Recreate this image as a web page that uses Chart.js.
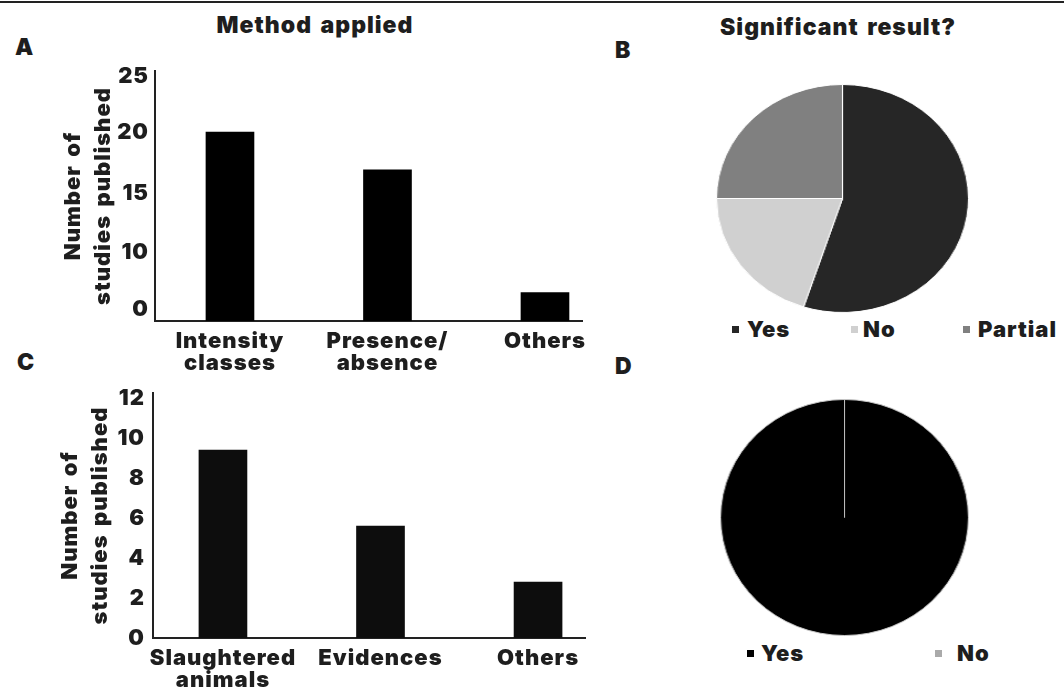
<!DOCTYPE html>
<html><head><meta charset="utf-8">
<script src="https://cdn.jsdelivr.net/npm/chart.js@4.4.1/dist/chart.umd.min.js"></script>
<style>
html,body{margin:0;padding:0;background:#fff;}
body{width:1064px;height:690px;position:relative;overflow:hidden;font-family:'Inter','DejaVu Sans',sans-serif;font-weight:900;color:#1e1e1e;letter-spacing:1px;word-spacing:3px;}
.abs{position:absolute;white-space:nowrap;}
#topline{position:absolute;left:0;top:1px;width:1064px;height:1.5px;background:#222;}
canvas{position:absolute;}
.mk{position:absolute;width:7px;height:7px;}
</style></head><body>
<div id="topline"></div>
<div class="abs" style="left:15px;top:36px;font-size:23px;line-height:23px">A</div>
<div class="abs" style="left:615px;top:39px;font-size:23px;line-height:23px">B</div>
<div class="abs" style="left:17px;top:351px;font-size:23px;line-height:23px">C</div>
<div class="abs" style="left:615px;top:355px;font-size:23px;line-height:23px">D</div>
<div class="abs" style="left:165px;width:300px;text-align:center;top:14px;font-size:23px;line-height:23px">Method applied</div>
<div class="abs" style="left:688px;width:300px;text-align:center;top:16px;font-size:23px;line-height:23px">Significant result?</div>

<canvas id="chartA" width="600" height="325" style="left:0;top:60px;width:600px;height:325px"></canvas>
<canvas id="chartC" width="600" height="305" style="left:0;top:385px;width:600px;height:305px"></canvas>
<canvas id="pieB" width="229" height="229" style="left:727.5px;top:83.5px;width:229px;height:229px;transform:scaleX(1.105);transform-origin:50% 50%"></canvas>
<canvas id="pieD" width="237" height="237" style="left:725.5px;top:398.5px;width:237px;height:237px;transform:scaleX(1.05);transform-origin:50% 50%"></canvas>
<div id="legendB"></div>
<div id="legendD"></div>

<script>
// ---- data ----
const methodCategories = [['Intensity','classes'], ['Presence/','absence'], ['Others']];
const methodCounts = [20, 16, 3];
const methodTickLabels = ['0', '10', '15', '20', '25'];
const methodTickValues = [1.2, 7.3, 13.5, 20, 25.9]; // where the reference prints its labels

const sourceCategories = [['Slaughtered','animals'], ['Evidences'], ['Others']];
const sourceCounts = [9.4, 5.6, 2.8];
const sourceTickValues = [0, 2, 4, 6, 8, 10, 12];

const resultLabels = ['Yes', 'No', 'Partial'];
const resultCounts = [22, 8, 10];

const sourceResultLabels = ['Yes', 'No'];
const sourceResultCounts = [18, 0];

const yTitle = ['Number of', 'studies published'];

// ---- styles ----
const textColor = '#1e1e1e';
const axisColor = '#222222';
const resultColors = ['#262626', '#d0d0d0', '#808080'];
const sourceResultColors = ['#000000', '#aaaaaa'];
const legendBPos = [{m:732, t:747}, {m:851, t:863}, {m:963, t:978}];
const legendDPos = [{m:747, t:761}, {m:935, t:957}];

Chart.defaults.font.family = "'Inter', 'DejaVu Sans', sans-serif";
Chart.defaults.font.weight = 900;
Chart.defaults.font.size = 22;
Chart.defaults.color = textColor;

// widen canvas text a little, like the heavy face of the reference
const spacingPlugin = {
  id: 'spacing',
  beforeUpdate(chart) { chart.ctx.letterSpacing = '1px'; chart.ctx.wordSpacing = '3px'; },
  beforeDraw(chart) { chart.ctx.letterSpacing = '1px'; chart.ctx.wordSpacing = '3px'; }
};

function barChart(id, cats, vals, o) {
  return new Chart(document.getElementById(id), {
    type: 'bar',
    plugins: [spacingPlugin],
    data: { datasets: [{ data: vals.map((v, i) => ({x: i, y: v})), backgroundColor: o.barColor, barThickness: 48 }] },
    options: {
      responsive: false, animation: false,
      layout: { padding: { left: o.padLeft, top: o.padTop, right: o.padRight, bottom: 0 } },
      plugins: { legend: { display: false }, tooltip: { enabled: false } },
      scales: {
        x: {
          type: 'linear', min: o.xMin, max: o.xMax, offset: false,
          grid: { display: false, drawTicks: false },
          border: { display: true, color: axisColor, width: 2 },
          afterBuildTicks: s => { s.ticks = cats.map((c, i) => ({value: i})); },
          afterFit: s => { s.height = o.xHeight; },
          ticks: { autoSkip: false, maxRotation: 0, minRotation: 0, padding: 9, color: textColor,
                   font: { size: 22, lineHeight: 1 }, callback: v => cats[v] }
        },
        y: {
          type: 'linear', min: 0, max: o.yMax,
          grid: { display: false, drawTicks: false },
          border: { display: true, color: axisColor, width: 2 },
          afterBuildTicks: s => { s.ticks = o.tickValues.map(v => ({value: v})); },
          afterFit: s => { s.width = o.yWidth; s.paddingTop = 0; s.paddingBottom = 0; },
          ticks: { padding: o.tickPad, color: textColor, font: { size: 22 },
                   callback: (v, i) => o.tickLabels[i] },
          title: { display: true, text: yTitle, color: textColor,
                   font: { size: 22, lineHeight: 30 / 22 }, padding: { top: 0, bottom: 0 } }
        }
      }
    }
  });
}

function pieChart(id, labels, vals, colors, border) {
  return new Chart(document.getElementById(id), {
    type: 'pie',
    data: { labels: labels, datasets: [{ data: vals, backgroundColor: colors, borderColor: border, borderWidth: 1 }] },
    options: {
      responsive: false, animation: false,
      layout: { padding: 0 },
      plugins: { legend: { display: false }, tooltip: { enabled: false } }
    }
  });
}

function legend(id, labels, colors, pos, markerTop, textTop) {
  const box = document.getElementById(id);
  labels.forEach((lab, i) => {
    const m = document.createElement('div');
    m.className = 'mk';
    m.style.left = pos[i].m + 'px';
    m.style.top = markerTop + 'px';
    m.style.background = colors[i];
    box.appendChild(m);
    const t = document.createElement('div');
    t.className = 'abs';
    t.style.left = pos[i].t + 'px';
    t.style.top = textTop + 'px';
    t.style.fontSize = '22px';
    t.style.lineHeight = '22px';
    t.textContent = lab;
    box.appendChild(t);
  });
}

function build() {
  barChart('chartA', methodCategories, methodCounts, {
    barColor: '#000000', padLeft: 58, padTop: 11, padRight: 18,
    xMin: -0.476, xMax: 2.235, xHeight: 64, yMax: 26.45, yWidth: 155 - 58, tickPad: 6,
    tickValues: methodTickValues, tickLabels: methodTickLabels
  });
  barChart('chartC', sourceCategories, sourceCounts, {
    barColor: '#0d0d0d', padLeft: 55, padTop: 8, padRight: 15,
    xMin: -0.444, xMax: 2.298, xHeight: 52, yMax: 12.25, yWidth: 153 - 55, tickPad: 8,
    tickValues: sourceTickValues, tickLabels: sourceTickValues.map(String)
  });
  pieChart('pieB', resultLabels, resultCounts, resultColors, '#ffffff');
  pieChart('pieD', sourceResultLabels, sourceResultCounts, sourceResultColors, '#c8c8c8');
  legend('legendB', resultLabels, resultColors, legendBPos, 326, 318);
  legend('legendD', sourceResultLabels, sourceResultColors, legendDPos, 650, 642);
}
if (document.fonts && document.fonts.load) {
  document.fonts.load("900 22px Inter").then(build, build);
} else { build(); }
</script>
</body></html>
